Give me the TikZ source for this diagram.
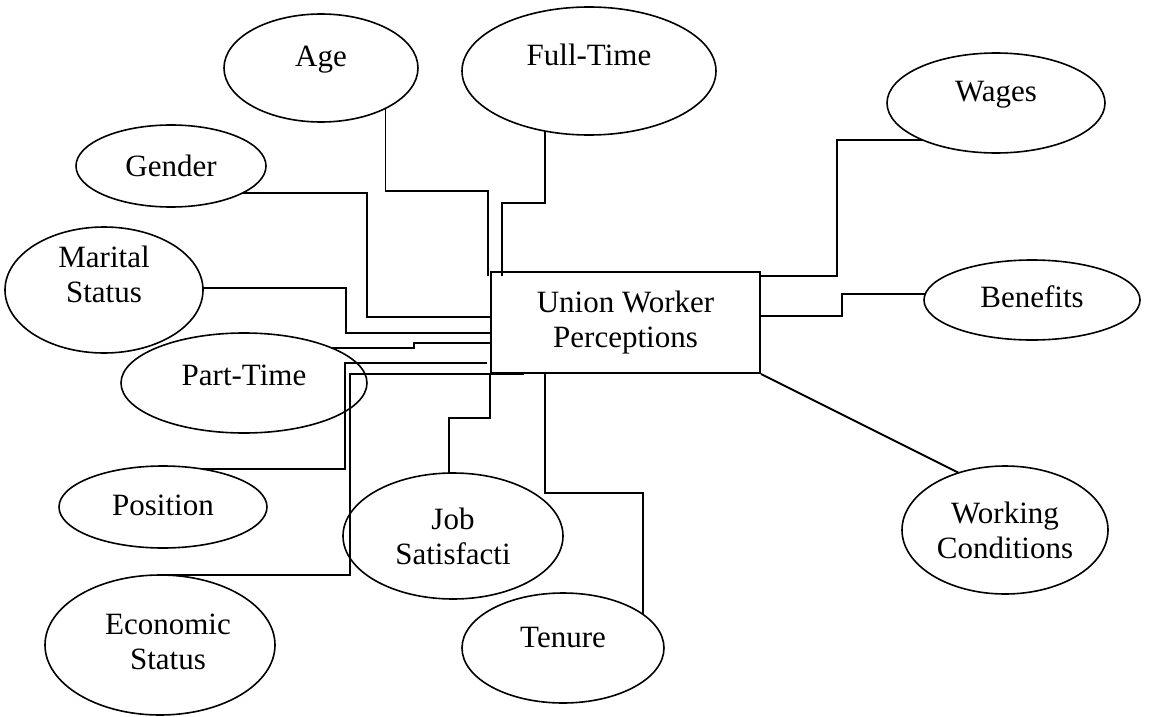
\documentclass[tikz,border=0pt]{standalone}
\usepackage{fontspec}
\setmainfont{Liberation Serif}
\usetikzlibrary{shapes.geometric}

\tikzset{
  attr/.style={draw, ellipse, line width=1.6pt, inner sep=0pt, outer sep=0pt},
  txt/.style={align=center, font=\fontsize{31}{35}\selectfont, inner sep=0pt},
  wire/.style={line width=1.9pt},
}

\begin{document}
\begin{tikzpicture}[x=1pt, y=1pt]
    \useasboundingbox (0,0) rectangle (1159,-717);
    % Nodes:
    \node[draw, line width=1.9pt, txt, minimum width=269pt, minimum height=101pt] (uwp) at (625.5,-322.5) {Union Worker\\Perceptions};
    \node[attr, minimum width=194pt, minimum height=108pt, label={[txt, yshift=8pt]center:Age}] (age) at (321,-68) {};
    \node[attr, minimum width=254pt, minimum height=128pt, label={[txt, yshift=16pt]center:Full-Time}] (fulltime) at (589,-71) {};
    \node[attr, minimum width=218pt, minimum height=100pt, label={[txt, yshift=8pt]center:Wages}] (wages) at (996,-103) {};
    \node[attr, minimum width=190pt, minimum height=82pt, label={[txt]center:Gender}] (gender) at (171,-166) {};
    \node[attr, minimum width=198pt, minimum height=126pt, label={[txt, yshift=16pt]center:Marital\\Status}] (marital) at (104,-290) {};
    \node[attr, minimum width=216pt, minimum height=80pt, label={[txt, yshift=3pt]center:Benefits}] (benefits) at (1032,-300) {};
    \node[attr, minimum width=246pt, minimum height=100pt, label={[txt, yshift=8pt]center:Part-Time}] (parttime) at (244,-383) {};
    \node[attr, minimum width=208pt, minimum height=82pt, label={[txt, yshift=2pt]center:Position}] (position) at (163,-507) {};
    \node[attr, minimum width=220pt, minimum height=126pt, label={[txt]center:Job\\Satisfacti}] (jobsat) at (453,-536) {};
    \node[attr, minimum width=230pt, minimum height=140pt, label={[txt, xshift=8pt, yshift=3pt]center:Economic\\Status}] (economic) at (160,-645) {};
    \node[attr, minimum width=202pt, minimum height=110pt, label={[txt, yshift=11pt]center:Tenure}] (tenure) at (563,-648) {};
    \node[attr, minimum width=206pt, minimum height=128pt, label={[txt]center:Working\\Conditions}] (working) at (1005,-530) {};
    % Wires:
    \draw[wire] (age.-32) -- ++(0,-83) -| ([xshift=-2pt,yshift=-5pt]uwp.north west);
    \draw[wire] (fulltime.-126) -- ++(0,-72) -| ([xshift=12pt,yshift=-5pt]uwp.north west);
    \draw[wire] (gender.-21) -- ++(125,0) |- ([yshift=5.5pt]uwp.west);
    \draw[wire] (marital.1) -- ++(143,0) |- ([yshift=-10.5pt]uwp.west);
    \draw[wire] (parttime.22) -- ++(83,0) |- ([yshift=-20.5pt]uwp.west);
    \draw[wire] (position.44) -- ++(143,0) |- ([xshift=-3pt,yshift=-40.5pt]uwp.west);
    \draw[wire] (economic.north) -- ++(190,0) |- ([xshift=34pt]uwp.south west);
    \draw[wire] (jobsat.94) -- ++(0,55) -| (uwp.south west);
    \draw[wire] (tenure.23) -- ++(0,121) -| ([xshift=55pt]uwp.south west);
    \draw[wire] (wages.-153) -- ++(-86,0) |- ([yshift=-5pt]uwp.north east);
    \draw[wire] (benefits.177) -- ++(-83,0) |- ([yshift=-45pt]uwp.north east);
    \draw[wire] (uwp.south east) -- (working.129);
\end{tikzpicture}
\end{document}
